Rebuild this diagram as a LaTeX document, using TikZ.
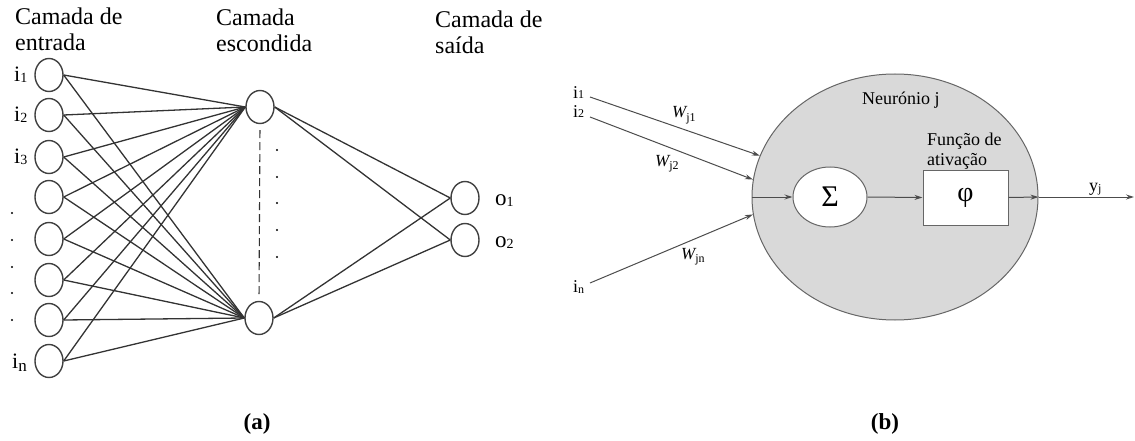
\documentclass[tikz,border=0pt]{standalone}
\usepackage{fontspec}
\setmainfont{Liberation Serif}
\usetikzlibrary{shapes.geometric,arrows.meta}
\tikzset{
  neu/.style={ellipse, draw=black!75, line width=1.4pt, minimum width=28pt, minimum height=33pt, inner sep=0pt},
  conn/.style={draw=black!80, line width=1.3pt},
  head/.style={font=\fontsize{24}{26}\selectfont, align=left, anchor=north west, inner sep=0pt},
  ilab/.style={font=\fontsize{22}{22}\selectfont, anchor=base west, inner sep=0pt},
  dotm/.style={fill=black, circle, inner sep=0pt, minimum size=2.2pt},
  arr/.style={draw=black!70, line width=1pt, -{Stealth[length=8pt,width=5pt]}},
  rlab/.style={font=\fontsize{18}{20}\selectfont, inner sep=0pt},
  captxt/.style={font=\fontsize{23}{23}\selectfont\bfseries, inner sep=0pt}
}
\newcommand{\sbs}[1]{\raisebox{-1pt}{\fontsize{14}{14}\selectfont #1}}
\begin{document}
\begin{tikzpicture}[x=1pt,y=-1pt]
\useasboundingbox (0,0) rectangle (1135,441);

% ---------- (a) ----------
\node[head] (hin) at (15,8) {Camada de\\entrada};
\node[head] (hhid) at (216,9) {Camada\\escondida};
\node[head] (hout) at (435,11) {Camada de\\saída};

\foreach \k/\y in {1/75,2/115,3/157,4/197,5/239,6/280,7/320,8/361}
  \node[neu] (in\k) at (49,\y) {};
\node[neu] (h1) at (260,107) {};
\node[neu] (h2) at (259,318) {};
\node[neu] (o1) at (465,198) {};
\node[neu] (o2) at (465,240) {};

\foreach \k in {1,...,8}{
  \draw[conn] (in\k.east) -- (h1.west);
  \draw[conn] (in\k.east) -- (h2.west);
}
\foreach \h in {h1,h2}{
  \draw[conn] (\h.east) -- (o1.west);
  \draw[conn] (\h.east) -- (o2.west);
}
\draw[draw=black!80, line width=1.1pt, dash pattern=on 8pt off 4pt, shorten <=6pt, shorten >=5pt] (h1.south) -- (h2.north);

\node[ilab] (li1) at (14,82) {i\sbs{1}};
\node[ilab] (li2) at (14,122) {i\sbs{2}};
\node[ilab] (li3) at (14,164) {i\sbs{3}};
\node[ilab] (lin) at (12,368) {i\raisebox{-3pt}{\fontsize{17}{17}\selectfont n}};
\foreach \y [count=\c] in {213,240,267,293,320}
  \node[dotm] (ld\c) at (12,\y) {};
\foreach \y [count=\c] in {150,177,203,230,257}
  \node[dotm] (hd\c) at (277,\y) {};
\node[ilab, font=\fontsize{23}{23}\selectfont] (lo1) at (495,205) {o\sbs{1}};
\node[ilab, font=\fontsize{23}{23}\selectfont] (lo2) at (495,247) {o\sbs{2}};

\node[captxt] (capa) at (257,424) {(a)};

% ---------- (b) ----------
\node[ellipse, draw=black!60, fill=gray!30, line width=1pt, minimum width=286pt, minimum height=246pt, inner sep=0pt] (neuron) at (895,197) {};
\node[ellipse, draw=black!60, fill=white, line width=1pt, minimum width=74pt, minimum height=60pt, inner sep=0pt, font=\fontsize{30}{30}\selectfont] (sigma) at (830,197) {Σ};
\node[rectangle, draw=black!60, fill=white, line width=1pt, minimum width=85pt, minimum height=55pt, inner sep=0pt, font=\fontsize{28}{28}\selectfont] (phi) at (965.5,197.5) {φ};

\node[rlab, anchor=base west] (nj) at (862,105) {Neurónio j};
\node[rlab, anchor=north west, align=left] (fa) at (927,133) {Função de\\ativação};

\node[rlab, anchor=base west] (ri1) at (573,99) {i\raisebox{0pt}{\fontsize{12}{12}\selectfont 1}};
\node[rlab, anchor=base west] (ri2) at (573,118) {i\raisebox{0pt}{\fontsize{12}{12}\selectfont 2}};
\node[rlab, anchor=base west] (rin) at (573,292) {i\raisebox{-1pt}{\fontsize{12}{12}\selectfont n}};
\coordinate (a1) at (590,97);
\coordinate (a2) at (590,117);
\coordinate (an) at (590,283);

\draw[arr] (a1) -- (neuron.163.5);
\draw[arr] (a2) -- (neuron.173);
\draw[arr] (an) -- (neuron.187);
\draw[arr] (neuron.west) -- (sigma.west);
\draw[arr] (sigma.east) -- (phi.west);
\draw[arr] (phi.east) -- (neuron.east);
\coordinate (yend) at (1134,197);
\draw[arr] (neuron.east) -- (yend);

\node[rlab, font=\fontsize{17}{17}\selectfont\itshape, anchor=base west] (w1) at (672,118) {W\raisebox{-3pt}{\fontsize{12}{12}\selectfont\upshape j1}};
\node[rlab, font=\fontsize{17}{17}\selectfont\itshape, anchor=base west] (w2) at (655,166) {W\raisebox{-3pt}{\fontsize{12}{12}\selectfont\upshape j2}};
\node[rlab, font=\fontsize{17}{17}\selectfont\itshape, anchor=base west] (wn) at (681,259) {W\raisebox{-3pt}{\fontsize{12}{12}\selectfont\upshape jn}};
\node[rlab, anchor=base west] (yj) at (1089,191) {y\raisebox{-1pt}{\fontsize{12}{12}\selectfont j}};

\node[captxt] (capb) at (885,424) {(b)};
\end{tikzpicture}
\end{document}
